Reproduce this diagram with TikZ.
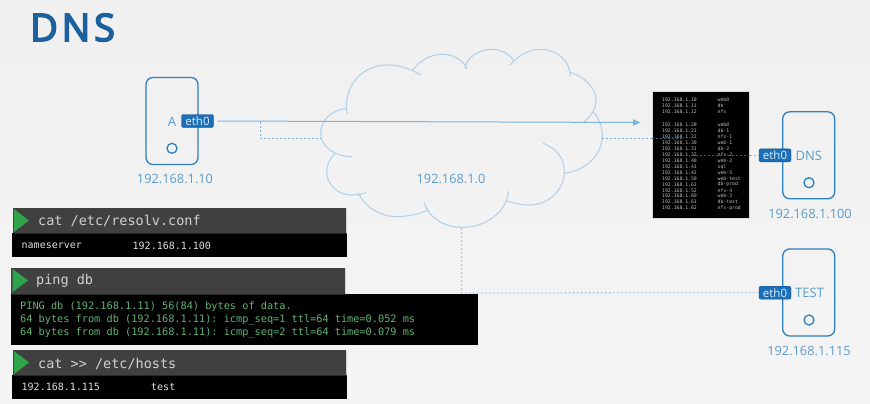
\documentclass[tikz,border=0pt]{standalone}
\usepackage{fontspec}
\setmainfont{Open Sans}
\setmonofont{DejaVu Sans Mono}
\newfontfamily\titlefont[FakeBold=4,LetterSpace=10]{Open Sans}
\usetikzlibrary{arrows.meta,shadows}
\definecolor{nodeblue}{HTML}{2F7FBD}
\definecolor{ethblue}{HTML}{1A6FB8}
\definecolor{titleblue}{HTML}{1A619E}
\definecolor{labelblue}{HTML}{5A9BCB}
\definecolor{linkblue}{HTML}{7DB4DE}
\definecolor{cloudblue}{HTML}{B2D2E9}
\definecolor{dimblue}{HTML}{34617F}
\definecolor{headgray}{HTML}{404040}
\definecolor{termgreen}{HTML}{62B374}
\definecolor{playgreen}{HTML}{2FA44A}
\tikzset{
  hostbox/.style={draw=nodeblue,line width=1.3pt,rounded corners=7pt,minimum width=52pt,minimum height=87pt,inner sep=0pt},
  ledcirc/.style={draw=nodeblue,line width=1.3pt,circle,minimum size=10pt,inner sep=0pt},
  ethtag/.style={fill=ethblue,draw=ethblue!70!black,line width=.4pt,rounded corners=2pt,text=white!88!ethblue,font=\fontsize{11.5}{12}\selectfont,minimum width=32pt,minimum height=13pt,inner sep=0pt},
  hostname/.style={text=labelblue,font=\fontsize{13}{14}\selectfont,inner sep=0pt},
  iplabel/.style={text=labelblue,font=\fontsize{12.8}{14}\selectfont,inner sep=0pt},
  solidlink/.style={draw=linkblue,line width=1pt},
  dashlink/.style={draw=linkblue,line width=.8pt,dash pattern=on 2pt off 2pt},
  dimlink/.style={draw=dimblue,line width=.8pt,dash pattern=on 2pt off 2pt},
  lobe/.style={draw=cloudblue,line width=1.1pt,line cap=round},
  termhead/.style={fill=headgray,minimum width=333.5pt,inner sep=0pt,drop shadow={shadow xshift=1pt,shadow yshift=-1pt,opacity=.3}},
  termbody/.style={fill=black,inner sep=0pt},
  headtext/.style={text=white!82!black,font=\ttfamily\fontsize{13.5}{15}\selectfont,anchor=west,inner sep=0pt},
  bodytext/.style={text=white!88!black,font=\ttfamily\fontsize{10}{12}\selectfont,anchor=west,inner sep=0pt},
  greentext/.style={text=termgreen,font=\ttfamily\fontsize{10.25}{12}\selectfont,anchor=west,inner sep=0pt},
  playmark/.style={fill=playgreen},
  hosttext/.style={text=white!75!black,font=\ttfamily\fontsize{4.8}{5}\selectfont,anchor=west,inner sep=0pt},
}
\begin{document}
\begin{tikzpicture}[x=1pt,y=-1pt]
\useasboundingbox (0,0) rectangle (870,404);
\shade[top color=white!94!black,bottom color=white!96!black] (0,0) rectangle (870,404);

% title
\node[anchor=west,text=titleblue,font=\titlefont\fontsize{38}{42}\selectfont,inner sep=0pt] (title) at (30,27.5) {DNS};

% cloud
\begin{scope}[shift={(300,40)},x=.33333pt,y=-.33333pt]
\draw[lobe] (142,220) .. controls (128,165) and (165,75) .. (265,75) .. controls (300,75) and (335,88) .. (362,105);
\draw[lobe] (338,90) .. controls (360,60) and (395,43) .. (425,43) .. controls (460,43) and (490,60) .. (500,85);
\draw[lobe] (495,85) .. controls (500,50) and (540,28) .. (575,28) .. controls (605,28) and (630,45) .. (640,60);
\draw[lobe] (630,75) .. controls (655,45) and (690,28) .. (720,28) .. controls (770,28) and (810,60) .. (810,108);
\draw[lobe] (810,97) .. controls (855,110) and (888,145) .. (888,180) .. controls (888,208) and (870,232) .. (850,248);
\draw[lobe] (880,215) .. controls (897,235) and (907,260) .. (907,285) .. controls (907,345) and (860,390) .. (793,400);
\draw[lobe] (730,310) .. controls (770,325) and (793,355) .. (793,395) .. controls (793,450) and (745,495) .. (690,495) .. controls (665,495) and (640,490) .. (620,483);
\draw[lobe] (625,455) .. controls (620,515) and (560,562) .. (485,562) .. controls (430,562) and (385,530) .. (372,488);
\draw[lobe] (385,510) .. controls (355,523) and (320,530) .. (290,530) .. controls (240,530) and (195,500) .. (175,460);
\draw[lobe] (198,458) .. controls (185,463) and (170,465) .. (155,465) .. controls (115,465) and (80,435) .. (80,395) .. controls (80,375) and (90,355) .. (105,340);
\draw[lobe] (155,350) .. controls (105,350) and (62,320) .. (62,280) .. controls (62,240) and (95,210) .. (140,205);
\end{scope}
\node[iplabel] (cloudlabel) at (451,179) {192.168.1.0};
\coordinate (cloudL) at (321,138);
\coordinate (cloudR) at (602,138);
\coordinate (cloudB) at (461.7,228);

% hosts
\node[hostbox] (hostA) at (172,121) {};
\node[ledcirc] (ledA) at (172,148.3) {};
\node[hostname] (nameA) at (172,121.5) {A};
\node[ethtag] (ethA) at (197.5,121) {eth0};
\node[iplabel] (ipA) at (175,179) {192.168.1.10};

\node[hostbox] (hostD) at (808.7,155.3) {};
\node[ledcirc] (ledD) at (809,182.7) {};
\node[hostname,anchor=west] (nameD) at (795.5,155.5) {DNS};
\node[ethtag] (ethD) at (775,155.3) {eth0};
\node[iplabel] (ipD) at (810,213.5) {192.168.1.100};

\node[hostbox] (hostT) at (808.7,292.5) {};
\node[ledcirc] (ledT) at (809,320) {};
\node[hostname,anchor=west] (nameT) at (795,293) {TEST};
\node[ethtag] (ethT) at (775,292.7) {eth0};
\node[iplabel] (ipT) at (809,351) {192.168.1.115};

% hosts table
\node[termbody,minimum width=97pt,minimum height=126.7pt,draw=white!85!black,line width=.3pt] (table) at (701,154.3) {};
\foreach \yy/\ip/\nm in {
  100/10/web0,105.8/11/db,111.7/12/nfs,
  125/20/web0,131/21/db-1,137.2/22/nfs-1,143.2/30/web-1,149.1/31/db-2,155/32/nfs-2,
  161/40/web-2,166.8/41/sql,172.7/42/web-5,178.6/50/web-test,184.4/61/db-prod,
  190.3/52/nfs-4,196.1/60/web-3,202/61/db-test,208/62/nfs-prod}{
  \node[hosttext] at (662,\yy) {192.168.1.\ip};
  \node[hosttext] at (717.5,\yy) {\nm};
}

% connectors
\coordinate (arrowEnd) at (641,122.5);
\coordinate (branchA) at (260,122);
\coordinate (tableDash) at (682,138);
\coordinate (tableDashB) at (692,155.3);
\coordinate (cornerB) at (461.7,293);
\draw[solidlink,-{Latex[length=8pt,width=7pt]}] ([xshift=4pt]ethA.east) -- (arrowEnd);
\draw[dashlink] (branchA) -- (branchA |- cloudL) -- (cloudL);
\draw[dashlink] (cloudR) -- (cloudR -| table.west);
\draw[dimlink] (cloudR -| table.west) -- (tableDash);
\draw[dimlink] (tableDashB) -- (tableDashB -| table.east);
\draw[dashlink] (tableDashB -| table.east) -- (ethD.west);
\draw[dashlink] (cloudB) -- (cornerB) -- (ethT.west);

% terminal 1
\node[termbody,anchor=north west,minimum width=335pt,minimum height=24pt] (body1) at (12,232.7) {};
\node[termhead,anchor=north west,minimum height=24.7pt] (head1) at (12.7,208) {};
\fill[playmark] (14,209) -- (29,220.5) -- (14,232) -- cycle;
\node[headtext] (cmd1) at (38,221) {cat /etc/resolv.conf};
\node[bodytext] (out1a) at (21.5,245.5) {nameserver};
\node[bodytext] (out1b) at (132.5,245.5) {192.168.1.100};

% terminal 2
\node[termbody,anchor=north west,minimum width=467pt,minimum height=51pt] (body2) at (11,294) {};
\node[termhead,anchor=north west,minimum height=26pt] (head2) at (11,267.7) {};
\fill[playmark] (12.5,269) -- (28,280.5) -- (12.5,292) -- cycle;
\node[headtext] (cmd2) at (36,281) {ping db};
\node[greentext] (out2a) at (20,306.5) {PING db (192.168.1.11) 56(84) bytes of data.};
\node[greentext] (out2b) at (20,319.5) {64 bytes from db (192.168.1.11): icmp\_seq=1 ttl=64 time=0.052 ms};
\node[greentext] (out2c) at (20,332.7) {64 bytes from db (192.168.1.11): icmp\_seq=2 ttl=64 time=0.079 ms};

% terminal 3
\node[termbody,anchor=north west,minimum width=335pt,minimum height=23.5pt] (body3) at (12,375) {};
\node[termhead,anchor=north west,minimum height=25pt] (head3) at (12.7,350) {};
\fill[playmark] (14,351) -- (29,362.5) -- (14,374) -- cycle;
\node[headtext] (cmd3) at (38,363.5) {cat >> /etc/hosts};
\node[bodytext] (out3a) at (21.5,387) {192.168.1.115};
\node[bodytext] (out3b) at (151,387) {test};
\end{tikzpicture}
\end{document}
